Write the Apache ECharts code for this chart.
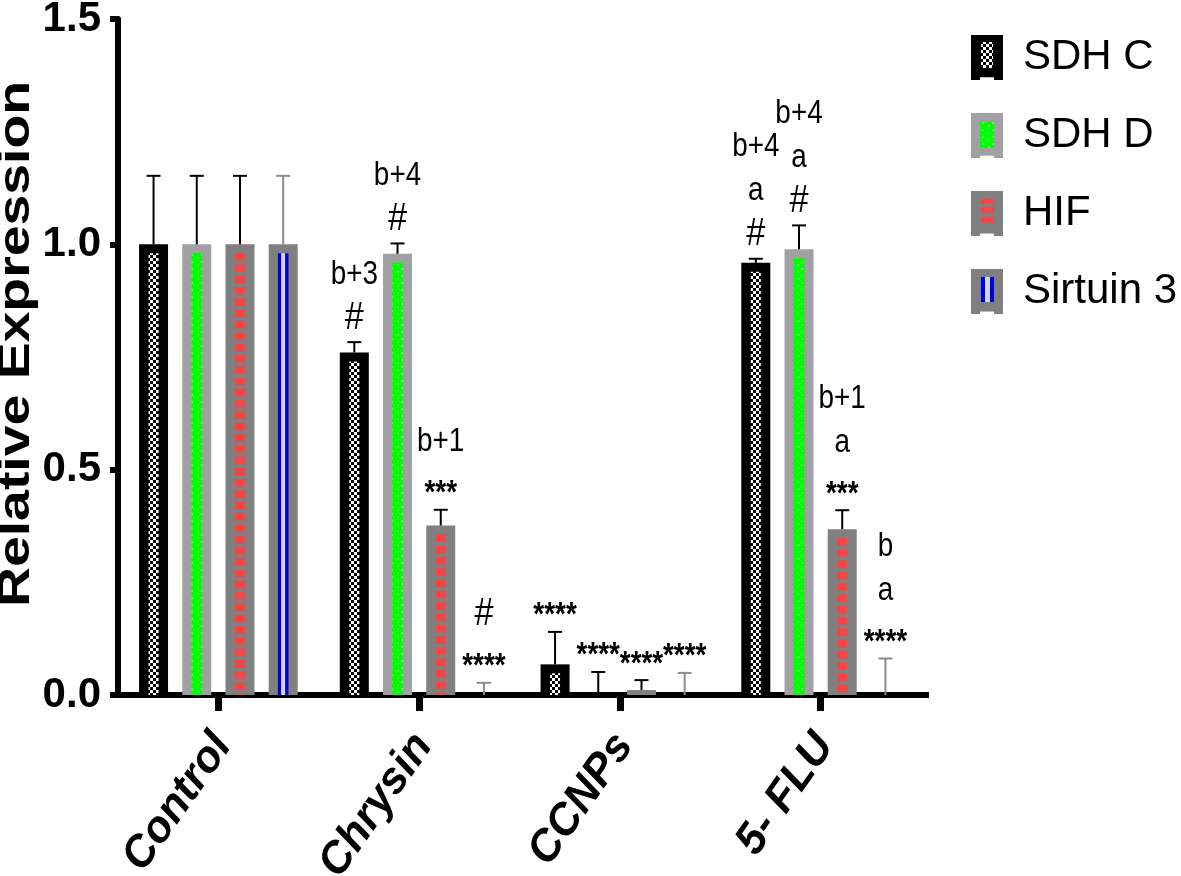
<!DOCTYPE html>
<html><head><meta charset="utf-8">
<script src="https://cdn.jsdelivr.net/npm/echarts@6/dist/echarts.min.js"></script>
<style>html,body{margin:0;padding:0;background:#fff}#c{width:1181px;height:876px}</style>
</head><body><div id="c"></div>
<script>
// ---------------- data ----------------
const categories = ['Control', 'Chrysin', 'CCNPs', '5- FLU'];
const seriesNames = ['SDH C', 'SDH D', 'HIF', 'Sirtuin 3'];
const sdhC  = [1.000, 0.760, 0.068, 0.959];
const sdhD  = [1.000, 0.979, 0.000, 0.989];
const hif   = [1.000, 0.376, 0.011, 0.368];
const sirt3 = [1.000, 0.000, 0.000, 0.000];
const sdhCErr  = [0.152, 0.023, 0.072, 0.009];
const sdhDErr  = [0.152, 0.023, 0.051, 0.053];
const hifErr   = [0.152, 0.035, 0.022, 0.042];
const sirt3Err = [0.152, 0.027, 0.049, 0.081];
// significance marks, listed top line first
const sdhCMarks  = [[], ['b+3', '#'], ['****'], ['b+4', 'a', '#']];
const sdhDMarks  = [[], ['b+4', '#'], ['****'], ['b+4', 'a', '#']];
const hifMarks   = [[], ['b+1', '***'], ['****'], ['b+1', 'a', '***']];
const sirt3Marks = [[], ['#', '****'], ['****'], ['b', 'a', '****']];
const yTickLabels = ['0.0', '0.5', '1.0', '1.5'];
const yAxisTitle = 'Relative Expression';

const values = [sdhC, sdhD, hif, sirt3];
const errors = [sdhCErr, sdhDErr, hifErr, sirt3Err];
const marks = [sdhCMarks, sdhDMarks, hifMarks, sirt3Marks];

// ---------------- styles ----------------
const barColors = ['#000000', '#a1a1a5', '#808080', '#808080'];
const errColors = ['#000000', '#000000', '#000000', '#8c8c8c'];
const BAR_W = 29, BAR_GAP = 0.49;
function barOffset(i) {
  const gap = BAR_W * BAR_GAP;
  const total = 4 * BAR_W + 3 * gap;
  return -total / 2 + BAR_W / 2 + i * (BAR_W + gap);
}
function mkCanvas(w, h, draw) {
  const c = document.createElement('canvas'); c.width = w; c.height = h;
  draw(c.getContext('2d')); return c;
}
const checker = mkCanvas(6, 6, g => {
  g.fillStyle = '#000'; g.fillRect(0, 0, 6, 6);
  g.fillStyle = '#fff'; g.fillRect(0, 0, 3, 3); g.fillRect(3, 3, 3, 3);
});
const greenDots = mkCanvas(10, 7, g => {
  g.fillStyle = '#00ff00'; g.fillRect(0, 0, 10, 7);
  g.fillStyle = '#6fe86f'; g.fillRect(1, 2, 2, 2); g.fillRect(7, 5, 2, 2);
});
function strip(i, cx, top, bot) {
  const out = [];
  if (i === 0) {
    out.push({ type: 'rect', shape: { x: cx - 5, y: top, width: 10, height: bot - top },
      style: { fill: { image: checker, repeat: 'repeat' } } });
  } else if (i === 1) {
    out.push({ type: 'rect', shape: { x: cx - 5.3, y: top, width: 10.6, height: bot - top },
      style: { fill: { image: greenDots, repeat: 'repeat' } } });
  } else if (i === 2) {
    for (let y = top; y < bot; y += 11.3) {
      const h = Math.min(7.5, bot - y);
      out.push({ type: 'rect', shape: { x: cx - 5, y: y, width: 10, height: h }, style: { fill: '#f94444' } });
    }
  } else {
    out.push({ type: 'rect', shape: { x: cx - 5.3, y: top, width: 3.3, height: bot - top }, style: { fill: '#0000d8' } });
    out.push({ type: 'rect', shape: { x: cx - 2, y: top, width: 4, height: bot - top }, style: { fill: '#d4d4e6' } });
    out.push({ type: 'rect', shape: { x: cx + 2, y: top, width: 3.3, height: bot - top }, style: { fill: '#0000d8' } });
  }
  return out;
}
function iconURL(i) {
  return mkCanvas(32, 45, g => {
    g.fillStyle = barColors[i];
    g.fillRect(0, 0, 32, 42); g.fillRect(0, 42, 9, 3); g.fillRect(23, 42, 9, 3);
    g.fillStyle = '#bdbdbd'; g.fillRect(9, 42, 14, 1);
    if (i === 0) {
      g.fillStyle = g.createPattern(checker, 'repeat'); g.fillRect(10, 7, 12, 26);
    } else if (i === 1) {
      g.fillStyle = g.createPattern(greenDots, 'repeat'); g.fillRect(9, 9, 14, 26);
    } else if (i === 2) {
      g.fillStyle = '#f94444';
      g.fillRect(10, 8, 13, 5); g.fillRect(10, 16, 13, 6); g.fillRect(10, 26, 13, 6);
    } else {
      g.fillStyle = '#0000d8'; g.fillRect(10, 8, 13, 25);
      g.fillStyle = '#d4d4e6'; g.fillRect(14, 8, 5, 25);
    }
  }).toDataURL();
}

function markFont(t) {
  if (t.charAt(0) === '*') return 'bold 34px "Liberation Sans", Arial, sans-serif';
  if (t === '#') return '38px "Liberation Sans", Arial, sans-serif';
  return '34px "Liberation Sans", Arial, sans-serif';
}

function overlay(i) {
  return {
    type: 'custom', name: seriesNames[i] + ' detail', z: 5, silent: true,
    data: categories.map((c, k) => [k, values[i][k], errors[i][k]]),
    encode: { x: 0, y: 1 },
    renderItem: (params, api) => {
      const k = api.value(0), v = api.value(1), e = api.value(2);
      const base = api.coord([k, 0]);
      const cx = base[0] + barOffset(i);
      const y0 = base[1];
      const yTop = api.coord([k, v])[1];
      const yCap = api.coord([k, v + e])[1];
      const ch = [];
      if (y0 - (yTop + 9) > 1) ch.push(...strip(i, cx, yTop + 9, y0));
      const ec = errColors[i];
      ch.push({ type: 'line', shape: { x1: cx, y1: yTop, x2: cx, y2: yCap }, style: { stroke: ec, lineWidth: 2 } });
      ch.push({ type: 'line', shape: { x1: cx - 7, y1: yCap, x2: cx + 7, y2: yCap }, style: { stroke: ec, lineWidth: 2 } });
      const lines = marks[i][k];
      for (let j = 0; j < lines.length; j++) {
        const t = lines[lines.length - 1 - j];
        const star = t.charAt(0) === '*';
        const yc = yCap - 24 - 44 * j + (star ? 8 : 0);
        ch.push({ type: 'text', x: cx, y: yc, scaleX: t === '#' ? 0.9 : 0.82,
          style: { text: t, fill: '#000', align: 'center', verticalAlign: 'middle',
            textAlign: 'center', textVerticalAlign: 'middle', font: markFont(t) } });
      }
      return { type: 'group', children: ch };
    }
  };
}

const chart = echarts.init(document.getElementById('c'), null, { renderer: 'canvas' });
const barSeries = seriesNames.map((n, i) => ({
  type: 'bar', name: n, data: values[i], barWidth: BAR_W, barGap: (BAR_GAP * 100) + '%',
  itemStyle: { color: barColors[i] }, z: 2, silent: true
}));
chart.setOption({
  animation: false,
  backgroundColor: '#fff',
  grid: { left: 118, right: 260, top: 19, bottom: 181, containLabel: false, outerBoundsMode: 'none' },
  legend: {
    data: seriesNames.map((n, i) => ({ name: n, icon: 'image://' + iconURL(i) })),
    orient: 'vertical', left: 966, top: 30, itemWidth: 32, itemHeight: 45, itemGap: 33,
    selectedMode: false,
    textStyle: { fontSize: 42, fontFamily: '"Liberation Sans", Arial, sans-serif', color: '#000',
      lineHeight: 16, padding: [0, 0, 26, 15] }
  },
  xAxis: {
    type: 'category', data: categories,
    axisLine: { lineStyle: { color: '#000', width: 6 } },
    axisTick: { show: true, alignWithLabel: true, interval: 0, length: 16, lineStyle: { color: '#000', width: 7 } },
    axisLabel: {
      interval: 0, rotate: 55, margin: 11, verticalAlign: 'top', padding: [0, 24, 0, 0],
      color: '#000', fontSize: 44, fontWeight: 'bold', fontStyle: 'italic',
      fontFamily: '"Liberation Sans", Arial, sans-serif'
    }
  },
  yAxis: {
    type: 'value', min: 0, max: 1.5, interval: 0.5,
    splitLine: { show: false },
    axisLine: { show: true, lineStyle: { color: '#000', width: 6 } },
    axisTick: { show: true, length: 8, lineStyle: { color: '#000', width: 6 } },
    axisLabel: {
      margin: 17, color: '#000', fontSize: 42, fontWeight: 'bold',
      fontFamily: '"Liberation Sans", Arial, sans-serif',
      formatter: v => yTickLabels[Math.round(v / 0.5)]
    }
  },
  graphic: [
    { type: 'text', x: 17, y: 344, rotation: Math.PI / 2, scaleX: 1.23, silent: true,
      style: { text: yAxisTitle, fill: '#000', align: 'center', verticalAlign: 'middle',
        textAlign: 'center', textVerticalAlign: 'middle',
        font: 'bold 45px "Liberation Sans", Arial, sans-serif' } },
    { type: 'rect', shape: { x: 110, y: 692, width: 9, height: 6 }, style: { fill: '#000' }, silent: true },
    { type: 'rect', shape: { x: 920, y: 692, width: 9, height: 6 }, style: { fill: '#000' }, silent: true }
  ],
  series: barSeries.concat([0, 1, 2, 3].map(overlay))
});
</script>
</body></html>
